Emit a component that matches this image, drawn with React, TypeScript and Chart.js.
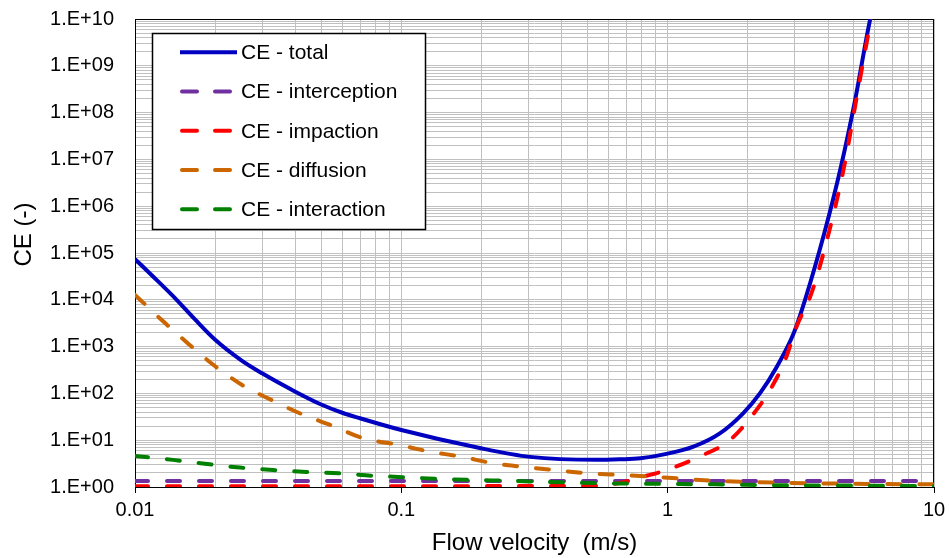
import React, { useEffect, useRef } from "react";
import { Chart, registerables } from "chart.js";

Chart.register(...registerables);

// ---- data ----
const totalX = [0.01, 0.0119, 0.0141, 0.0168, 0.02, 0.025, 0.03, 0.04, 0.05, 0.06, 0.07, 0.1, 0.197, 0.304, 0.543, 0.66, 0.79, 0.99, 1.25, 1.57, 1.92, 2.22, 2.57, 2.97, 3.28, 3.87, 4.47, 5.06, 5.75, 6.0];
const totalY = [7.4e4, 2.85e4, 1.1e4, 3.8e3, 1400, 515, 269, 109, 58, 38.6, 29.4, 16.5, 6.8, 4.4, 3.8, 3.9, 4.1, 5.1, 7.3, 14, 37.6, 100, 372, 1900, 1e4, 2.6e5, 6.9e6, 1.9e8, 9.5e9, 2.5e10];

const interceptionX = [0.01, 10];
const interceptionY = [1.35, 1.35];

const impactionX = [0.01, 0.5, 0.65, 0.77, 0.99, 1.32, 1.71, 2.16, 2.46, 2.76, 3.05, 3.47, 4.02, 4.57, 5.08, 5.67, 6.0];
const impactionY = [1.04, 1.05, 1.2, 1.55, 2.3, 4.5, 10, 45, 138, 513, 2700, 1.4e4, 2.6e5, 5.9e6, 1.6e8, 4.9e9, 2.5e10];

const diffusionX = [0.01, 0.013, 0.016, 0.02, 0.0254, 0.0326, 0.0423, 0.0551, 0.072, 0.096, 0.128, 0.166, 0.222, 0.287, 0.394, 0.51, 0.68, 0.88, 1.57, 2.8, 5, 10];
const diffusionY = [12700, 3140, 1100, 380, 148, 72, 36, 20.4, 11, 8.1, 5.7, 4.5, 3.2, 2.7, 2.24, 1.95, 1.8, 1.66, 1.34, 1.23, 1.17, 1.14];

const interactionX = [0.01, 0.0139, 0.0186, 0.0248, 0.033, 0.044, 0.059, 0.078, 0.105, 0.14, 0.186, 0.248, 0.33, 0.44, 0.59, 0.8, 1.0, 1.5, 2.5, 5, 10];
const interactionY = [4.6, 3.8, 3.1, 2.6, 2.3, 2.1, 1.95, 1.74, 1.61, 1.48, 1.41, 1.36, 1.3, 1.24, 1.2, 1.18, 1.16, 1.14, 1.09, 1.07, 1.05];

const seriesNames = ["CE - total", "CE - interception", "CE - impaction", "CE - diffusion", "CE - interaction"];
const seriesColors = ["#0000C0", "#7030A0", "#FF0000", "#CC6600", "#008000"];

const xTickValues = [0.01, 0.1, 1, 10];
const xTickLabels = ["0.01", "0.1", "1", "10"];
const yTickValues = [1, 1e1, 1e2, 1e3, 1e4, 1e5, 1e6, 1e7, 1e8, 1e9, 1e10];
const yTickLabels = ["1.E+00", "1.E+01", "1.E+02", "1.E+03", "1.E+04", "1.E+05", "1.E+06", "1.E+07", "1.E+08", "1.E+09", "1.E+10"];

const xTitle = "Flow velocity  (m/s)";
const yTitle = "CE (-)";

const FONT = "'Liberation Sans', Arial, sans-serif";

function pts(xs: number[], ys: number[]) {
  return xs.map((x, i) => ({ x, y: ys[i] }));
}

function logTicks(min: number, max: number) {
  const out: { value: number; major: boolean }[] = [];
  const e0 = Math.round(Math.log10(min));
  const e1 = Math.round(Math.log10(max));
  for (let e = e0; e < e1; e++) {
    for (let s = 1; s <= 9; s++) {
      out.push({ value: Number((s * Math.pow(10, e)).toPrecision(3)), major: s === 1 });
    }
  }
  out.push({ value: max, major: true });
  return out;
}

function labelFor(values: number[], labels: string[], v: number) {
  const i = values.findIndex((t) => Math.abs(Math.log10(t) - Math.log10(v)) < 1e-6);
  return i >= 0 ? labels[i] : "";
}

const framePlugin = {
  id: "frame",
  beforeDatasetsDraw(chart: any) {
    const { ctx, chartArea: a } = chart;
    ctx.save();
    ctx.strokeStyle = "#000";
    ctx.lineWidth = 1;
    ctx.strokeRect(a.left + 0.5, a.top + 0.5, a.right - a.left - 1, a.bottom - a.top);
    ctx.restore();
  },
};

const legendPlugin = {
  id: "boxLegend",
  afterDatasetsDraw(chart: any) {
    const { ctx, chartArea: a } = chart;
    const bx = a.left + 17;
    const by = a.top + 14;
    const bw = 273;
    const bh = 196;
    ctx.save();
    ctx.fillStyle = "#fff";
    ctx.fillRect(bx, by, bw, bh);
    ctx.strokeStyle = "#000";
    ctx.lineWidth = 1.5;
    ctx.strokeRect(bx + 0.5, by + 0.5, bw, bh);
    ctx.font = `21px ${FONT}`;
    ctx.textBaseline = "middle";
    ctx.textAlign = "left";
    seriesNames.forEach((name, i) => {
      const y = by + 19.3 + i * 39.25;
      ctx.beginPath();
      ctx.strokeStyle = seriesColors[i];
      ctx.lineWidth = 4;
      if (i === 0) {
        ctx.lineCap = "butt";
        ctx.setLineDash([]);
        ctx.moveTo(bx + 28, y);
        ctx.lineTo(bx + 85, y);
      } else {
        ctx.lineCap = "round";
        ctx.setLineDash([15, 18]);
        ctx.moveTo(bx + 30, y);
        ctx.lineTo(bx + 80, y);
      }
      ctx.stroke();
      ctx.setLineDash([]);
      ctx.fillStyle = "#000";
      ctx.fillText(name, bx + 89, y + 1);
    });
    ctx.restore();
  },
};

const yTitlePlugin = {
  id: "yTitle",
  afterDraw(chart: any) {
    const { ctx } = chart;
    ctx.save();
    ctx.translate(24, 234.5);
    ctx.rotate(-Math.PI / 2);
    ctx.font = `24px ${FONT}`;
    ctx.fillStyle = "#000";
    ctx.textAlign = "center";
    ctx.textBaseline = "middle";
    ctx.fillText(yTitle, 0, 0);
    ctx.restore();
  },
};

export default function App() {
  const ref = useRef<HTMLCanvasElement | null>(null);

  useEffect(() => {
    if (!ref.current) return;
    const xs = [totalX, interceptionX, impactionX, diffusionX, interactionX];
    const ys = [totalY, interceptionY, impactionY, diffusionY, interactionY];
    const orders = [5, 4, 3, 2, 1];
    const datasets = seriesNames.map((name, i) => ({
      label: name,
      data: pts(xs[i], ys[i]),
      showLine: true,
      borderColor: seriesColors[i],
      backgroundColor: seriesColors[i],
      borderWidth: 4,
      borderDash: i === 0 ? [] : [13, 19],
      borderCapStyle: i === 0 ? "butt" : "round",
      pointRadius: 0,
      pointHoverRadius: 0,
      cubicInterpolationMode: "monotone",
      tension: 0.4,
      fill: false,
      order: orders[i],
    }));

    const chart = new Chart(ref.current, {
      type: "scatter",
      data: { datasets: datasets as any },
      options: {
        animation: false,
        responsive: false,
        maintainAspectRatio: false,
        layout: { autoPadding: false, padding: { top: 19, right: 15, left: 0, bottom: 0 } },
        plugins: { legend: { display: false }, tooltip: { enabled: false } },
        scales: {
          x: {
            type: "logarithmic",
            min: 0.01,
            max: 10,
            afterBuildTicks: (s: any) => {
              s.ticks = logTicks(0.01, 10);
            },
            afterFit: (s: any) => {
              s.height = 71;
              s.paddingLeft = 0;
              s.paddingRight = 0;
              s.paddingTop = 0;
              s.paddingBottom = 0;
            },
            border: { display: false },
            grid: {
              color: "#c0c0c0",
              lineWidth: 1,
              drawTicks: true,
              tickLength: 6,
              tickColor: (c: any) => (c.tick && c.tick.major ? "#000" : "rgba(0,0,0,0)"),
            },
            ticks: {
              autoSkip: false,
              maxRotation: 0,
              minRotation: 0,
              padding: 5,
              color: "#000",
              font: { family: FONT, size: 20 },
              callback: (v: any) => labelFor(xTickValues, xTickLabels, Number(v)),
            },
            title: {
              display: true,
              text: xTitle,
              color: "#000",
              font: { family: FONT, size: 24 },
              padding: { top: 0, bottom: 0 },
            },
          },
          y: {
            type: "logarithmic",
            min: 1,
            max: 1e10,
            afterBuildTicks: (s: any) => {
              s.ticks = logTicks(1, 1e10);
            },
            afterFit: (s: any) => {
              s.width = 135;
              s.paddingLeft = 0;
              s.paddingRight = 0;
              s.paddingTop = 0;
              s.paddingBottom = 0;
            },
            border: { display: false },
            grid: { color: "#c0c0c0", lineWidth: 1, drawTicks: false },
            ticks: {
              autoSkip: false,
              padding: 21,
              color: "#000",
              font: { family: FONT, size: 20 },
              callback: (v: any) => labelFor(yTickValues, yTickLabels, Number(v)),
            },
          },
        },
      },
      plugins: [framePlugin, legendPlugin, yTitlePlugin],
    });
    return () => chart.destroy();
  }, []);

  return (
    <div style={{ position: "fixed", left: 0, top: 0, width: 949, height: 558, background: "#fff" }}>
      <canvas ref={ref} width={949} height={558} style={{ display: "block" }} />
    </div>
  );
}
